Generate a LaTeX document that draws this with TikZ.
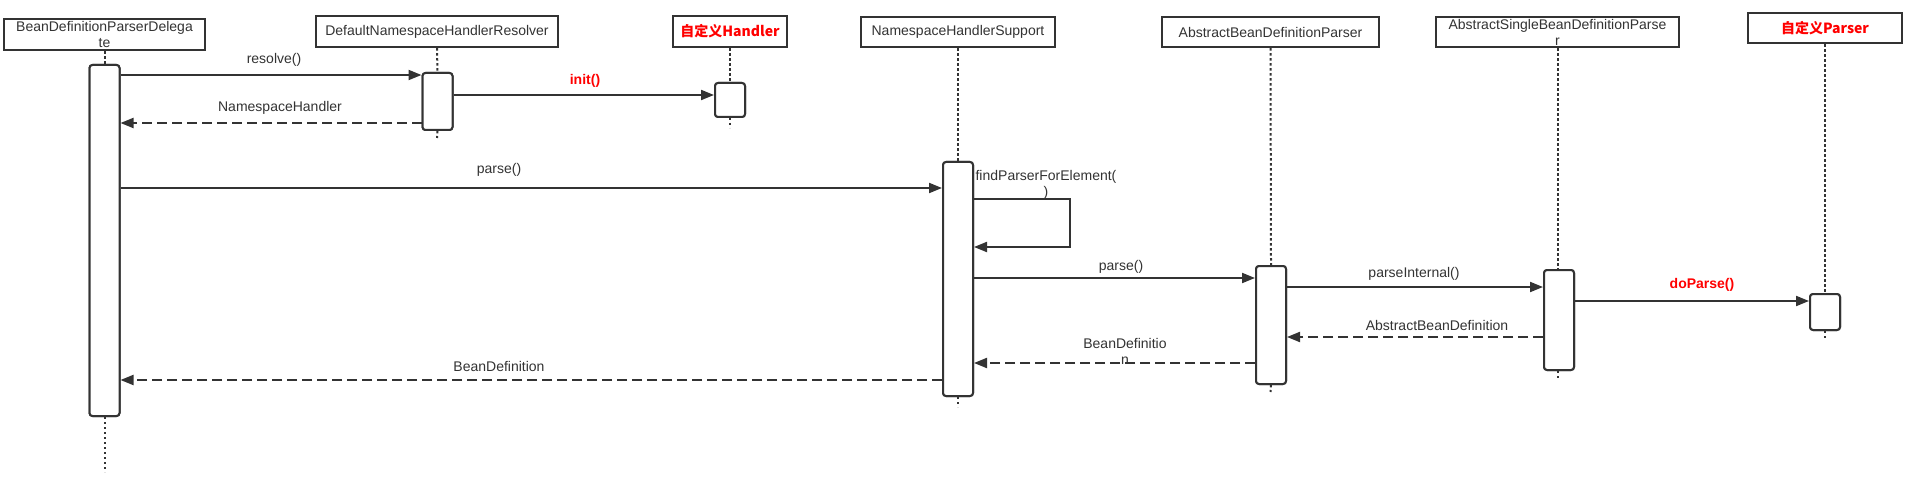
\documentclass[tikz,border=0pt]{standalone}
\usepackage{fontspec}
\setmainfont{Liberation Sans}
\newfontfamily\cjk{Noto Sans CJK SC}
\usetikzlibrary{arrows.meta}
\definecolor{ink}{HTML}{333333}
\definecolor{hot}{HTML}{FF0000}
\begin{document}
\begin{tikzpicture}[x=1pt,y=-1pt,
  every node/.style={font=\fontsize{14pt}{16pt}\selectfont, text=ink},
  hdr/.style={draw=ink, line width=2.4pt, fill=white, inner sep=0pt, align=center, minimum height=30pt},
  hotbox/.style={hdr, text=hot, font=\fontsize{14pt}{16pt}\selectfont\cjk\bfseries},
  act/.style={draw=ink, line width=2pt, rounded corners=3pt, fill=white, minimum width=30pt, inner sep=0pt},
  life/.style={draw=ink, line width=2pt, dash pattern=on 2.4pt off 2.6pt},
  msg/.style={draw=ink, line width=2pt, -{Triangle[length=13pt,width=10pt]}},
  ret/.style={msg, dash pattern=on 10pt off 5pt},
  lbl/.style={inner sep=0pt, align=center},
  redlbl/.style={lbl, text=hot, font=\fontsize{14pt}{16pt}\selectfont\bfseries},
]
\path[use as bounding box, fill=white] (0,0) rectangle (1909,481);

% lifeline heads
\node[hdr, minimum width=201pt, minimum height=31pt] (h1) at (104.5,34.5) {BeanDefinitionParserDelega\\te};
\node[hdr, minimum width=242pt, minimum height=31pt] (h2) at (437,31.5) {DefaultNamespaceHandlerResolver};
\node[hotbox, minimum width=114pt, minimum height=31pt] (h3) at (730,31.5) {自定义Handler};
\node[hdr, minimum width=194pt] (h4) at (958,32) {NamespaceHandlerSupport};
\node[hdr, minimum width=217pt] (h5) at (1270.5,32) {AbstractBeanDefinitionParser};
\node[hdr, minimum width=243pt] (h6) at (1557.5,32) {AbstractSingleBeanDefinitionParse\\r};
\node[hotbox, minimum width=154pt] (h7) at (1825,28) {自定义Parser};

% lifeline ends
\coordinate (e1) at (104.5,472);
\coordinate (e2) at (437,138);
\coordinate (e3) at (730,128);
\coordinate (e4) at (958,407);
\coordinate (e5) at (1270.5,392);
\coordinate (e6) at (1557.5,378);
\coordinate (e7) at (1825,339);

% activations (positions)
\node[act, minimum height=351pt] (a1) at (104.5,240.5) {};
\node[act, minimum height=57pt] (a2) at (437.5,101.5) {};
\node[act, minimum height=34pt] (a3) at (730,100) {};
\node[act, minimum height=234pt] (a4) at (958,279) {};
\node[act, minimum height=118pt] (a5) at (1271,325) {};
\node[act, minimum height=100pt] (a6) at (1559,320) {};
\node[act, minimum height=36pt] (a7) at (1825,312) {};

% lifelines
\draw[life] (h1.south) -- (a1.north);  \draw[life] (a1.south) -- (e1);
\draw[life] (h2.south) -- (a2.north);  \draw[life] (a2.south) -- (e2);
\draw[life] (h3.south) -- (a3.north);  \draw[life] (a3.south) -- (e3);
\draw[life] (h4.south) -- (a4.north);  \draw[life] (a4.south) -- (e4);
\draw[life] (h5.south) -- (a5.north);  \draw[life] (a5.south) -- (e5);
\draw[life] (h6.south) -- (h6.south |- a6.north);  \draw[life] (e6 |- a6.south) -- (e6);
\draw[life] (h7.south) -- (a7.north);  \draw[life] (a7.south) -- (e7);

% activations drawn over the lifelines
\node[act, minimum height=351pt] at (a1) {};
\node[act, minimum height=57pt] at (a2) {};
\node[act, minimum height=34pt] at (a3) {};
\node[act, minimum height=234pt] at (a4) {};
\node[act, minimum height=118pt] at (a5) {};
\node[act, minimum height=100pt] at (a6) {};
\node[act, minimum height=36pt] at (a7) {};

% messages
\draw[msg] (a1.east |- 0,75) -- (a2.west |- 0,75);
\draw[ret] (a2.west |- 0,123) -- (a1.east |- 0,123);
\draw[msg] (a2.east |- 0,95) -- (a3.west |- 0,95);
\draw[msg] (a1.east |- 0,188) -- (a4.west |- 0,188);
\coordinate (lp) at (1070,199);
\coordinate (lq) at (1070,247);
\draw[msg] (a4.east |- lp) -- (lp) -- (lq) -- (a4.east |- lq);
\draw[msg] (a4.east |- 0,278) -- (a5.west |- 0,278);
\draw[msg] (a5.east |- 0,287) -- (a6.west |- 0,287);
\draw[msg] (a6.east |- 0,301) -- (a7.west |- 0,301);
\draw[ret] (a6.west |- 0,337) -- (a5.east |- 0,337);
\draw[ret] (a5.west |- 0,363) -- (a4.east |- 0,363);
\draw[ret] (a4.west |- 0,380) -- (a1.east |- 0,380);

% labels
\node[lbl] (l1) at (274,60) {resolve()};
\node[lbl] (l2) at (280,108) {NamespaceHandler};
\node[redlbl] (l3) at (585,81) {init()};
\node[lbl] (l4) at (499,170) {parse()};
\node[lbl] (l5) at (1046,185) {findParserForElement(\\)};
\node[lbl] (l6) at (1121,267) {parse()};
\node[lbl] (l7) at (1414,274) {parseInternal()};
\node[redlbl] (l8) at (1702,285) {doParse()};
\node[lbl] (l9) at (1437,325) {AbstractBeanDefinition};
\node[lbl] (l10) at (1125,351) {BeanDefinitio\\n};
\node[lbl] (l11) at (499,366) {BeanDefinition};
\end{tikzpicture}
\end{document}
